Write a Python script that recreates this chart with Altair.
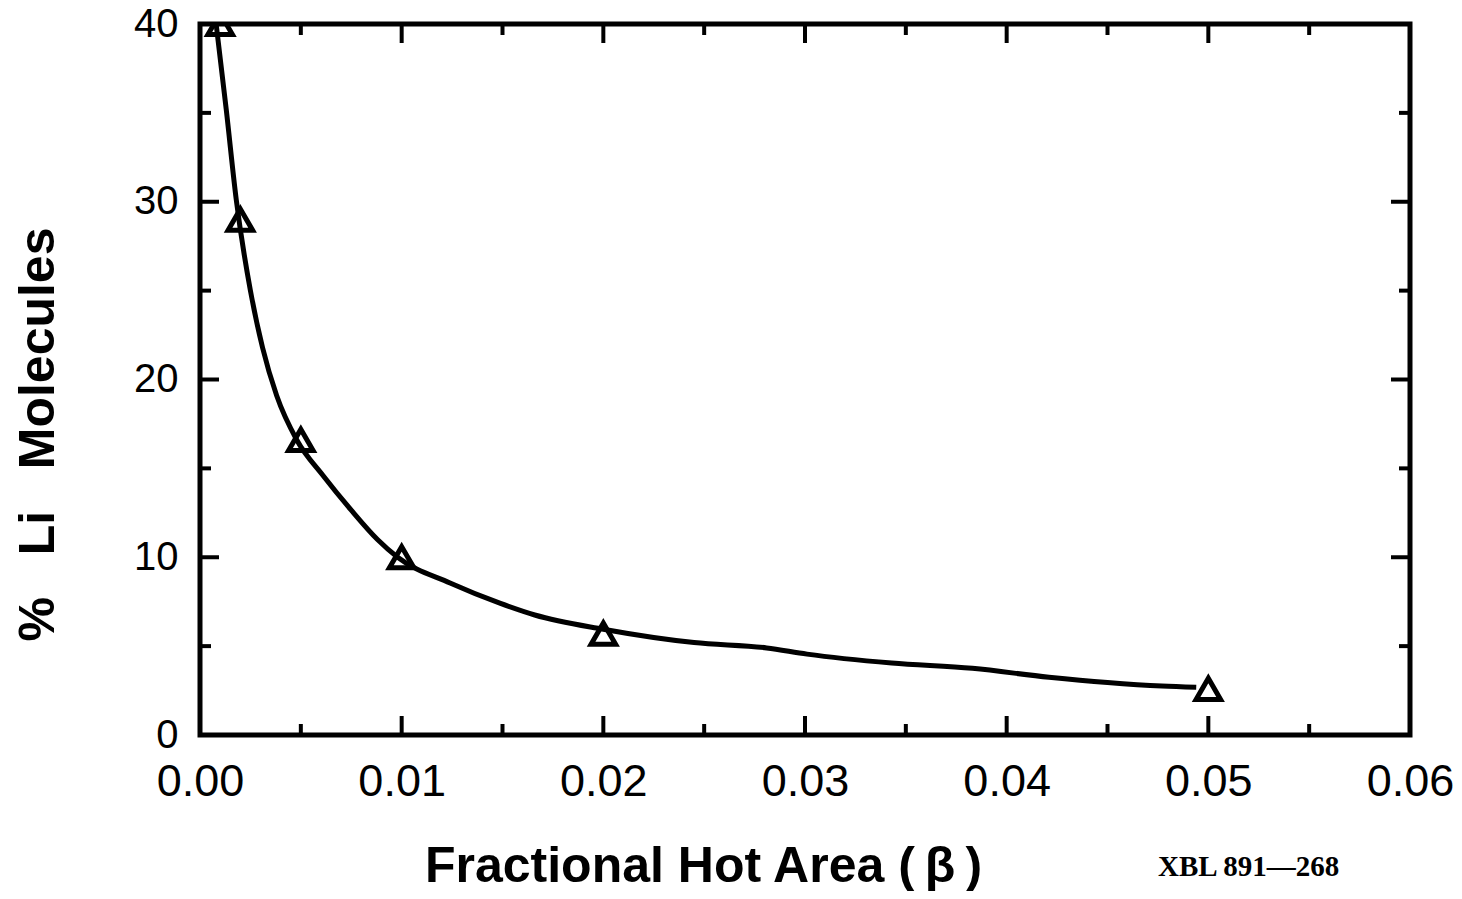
import altair as alt
import pandas as pd

# measured data points (triangles)
point_x = [0.001, 0.002, 0.005, 0.010, 0.020, 0.050]
point_y = [40.0, 29.0, 16.6, 10.0, 5.7, 2.6]

# hand-drawn smooth curve
curve_x = [0.0008, 0.0013, 0.0018, 0.0025, 0.0031, 0.0038, 0.0048, 0.0061,
           0.0075, 0.0088, 0.0098, 0.0124, 0.0149, 0.0166, 0.0200, 0.0245,
           0.0281, 0.0301, 0.0343, 0.0383, 0.0421, 0.0450, 0.0477, 0.0494]
curve_y = [40.0, 35.2, 30.1, 25.0, 21.8, 19.1, 16.6, 14.6,
           12.65, 11.0, 10.0, 8.55, 7.4, 6.75, 5.95, 5.2,
           4.9, 4.55, 4.05, 3.75, 3.25, 2.95, 2.75, 2.68]

x_labels = [0.0, 0.01, 0.02, 0.03, 0.04, 0.05, 0.06]
y_labels = [0, 10, 20, 30, 40]
x_major = [0.01, 0.02, 0.03, 0.04, 0.05]
x_minor = [0.005, 0.015, 0.025, 0.035, 0.045, 0.055]
y_major = [10, 20, 30]
y_minor = [5, 15, 25, 35]
x_title = "Fractional Hot Area (\u2009\u03b2\u2009)"
y_title = "%\u00a0\u00a0\u00a0Li\u00a0\u00a0\u00a0Molecules"
annotation = ["XBL 891\u2014268"]

W, H = 1210, 711
MAJ, MIN = 19, 11
TW = 4

xs = alt.Scale(domain=[0, 0.06], nice=False, zero=False)
ys = alt.Scale(domain=[0, 40], nice=False)

x_axis = alt.Axis(
    values=x_labels, format=".2f", title=x_title, labelFlush=False,
    labelFont="Liberation Sans", labelFontSize=45, labelPadding=24,
    labelColor="black", titleFont="Liberation Sans", titleFontSize=50,
    titleFontWeight="bold", titleColor="black", titleX=503, titleY=146,
    titleAlign="center", titleBaseline="alphabetic")
y_axis = alt.Axis(
    values=y_labels, title=y_title, labelFlush=False,
    labelFont="Liberation Sans", labelFontSize=40, labelPadding=22,
    labelColor="black", titleFont="Liberation Sans", titleFontSize=50,
    titleFontWeight="bold", titleColor="black", titleAngle=270,
    titleX=-147, titleY=410, titleAlign="center",
    titleBaseline="alphabetic")

curve_df = pd.DataFrame({"x": curve_x, "y": curve_y})
pts_df = pd.DataFrame({"x": point_x, "y": point_y})

line = alt.Chart(curve_df).mark_line(
    color="black", strokeWidth=5, interpolate="monotone", clip=True
).encode(
    x=alt.X("x:Q", scale=xs, axis=x_axis),
    y=alt.Y("y:Q", scale=ys, axis=y_axis),
)

points = alt.Chart(pts_df).mark_point(
    shape="triangle-up", filled=False, color="black", strokeWidth=5,
    size=600, opacity=1, clip=True
).encode(
    x=alt.X("x:Q", scale=xs, axis=x_axis),
    y=alt.Y("y:Q", scale=ys, axis=y_axis),
)


def xticks(vals, length, top):
    d = pd.DataFrame({"x": vals})
    if top:
        yy, yy2 = alt.value(0), alt.value(length)
    else:
        yy, yy2 = alt.value(H), alt.value(H - length)
    return alt.Chart(d).mark_rule(color="black", strokeWidth=TW).encode(
        x=alt.X("x:Q", scale=xs, axis=x_axis), y=yy, y2=yy2)


def yticks(vals, length, right):
    d = pd.DataFrame({"y": vals})
    if right:
        xx, xx2 = alt.value(W), alt.value(W - length)
    else:
        xx, xx2 = alt.value(0), alt.value(length)
    return alt.Chart(d).mark_rule(color="black", strokeWidth=TW).encode(
        y=alt.Y("y:Q", scale=ys, axis=y_axis), x=xx, x2=xx2)


ticks = [
    xticks(x_major, MAJ, False), xticks(x_minor, MIN, False),
    xticks(x_major, MAJ, True), xticks(x_minor, MIN, True),
    yticks(y_major, MAJ, False), yticks(y_minor, MIN, False),
    yticks(y_major, MAJ, True), yticks(y_minor, MIN, True),
]

note = alt.Chart(pd.DataFrame({"t": annotation})).mark_text(
    font="Liberation Serif", fontSize=29, fontWeight="bold", align="left",
    baseline="alphabetic", color="black"
).encode(text="t:N", x=alt.value(958), y=alt.value(852))

chart = alt.layer(line, points, *ticks, note).properties(
    width=W, height=H,
    padding={"left": 192, "top": 16, "right": 44, "bottom": 156},
    autosize=alt.AutoSizeParams(type="none"),
    background="white",
).configure_view(stroke="black", strokeWidth=5).configure_axis(
    grid=False, domain=False, ticks=False
)

chart.save("out.html", embed_options={"renderer": "svg", "actions": False})
